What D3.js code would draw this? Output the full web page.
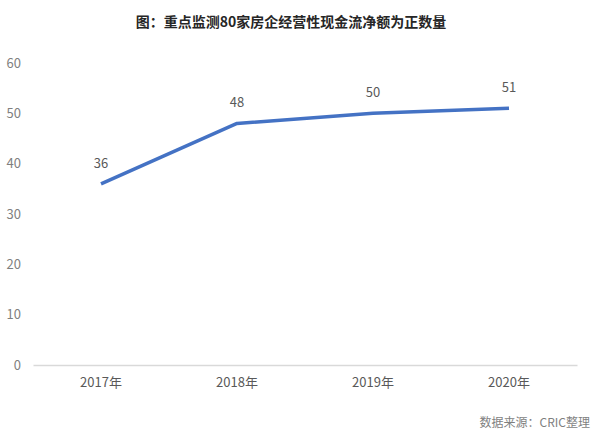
<!DOCTYPE html>
<html><head><meta charset="utf-8">
<script src="https://cdn.jsdelivr.net/npm/d3@7"></script>
<style>body{margin:0;background:#fff}svg{display:block}</style>
</head><body>
<svg id="c" width="600" height="434"></svg>
<script>
const categories = ["2017年","2018年","2019年","2020年"];
const values = [36,48,50,51];
const yTicks = [0,10,20,30,40,50,60];
const title = "图：重点监测80家房企经营性现金流净额为正数量";
const source = "数据来源：CRIC整理";

const svg = d3.select("#c");
const m = {l:33, r:23, t:63, b:69};
const W = 600, H = 434;
const x = d3.scaleBand().domain(categories).range([m.l, W-m.r]);
const y = d3.scaleLinear().domain([0,60]).range([H-m.b, m.t]);
const font = "'Noto Sans CJK SC','Noto Sans',sans-serif";

svg.append("text").attr("x",291).attr("y",27).attr("text-anchor","middle")
  .attr("font-family",font).attr("font-size",14).attr("font-weight","bold").attr("fill","#262626").text(title);

const ya = svg.append("g").attr("transform",`translate(${m.l},0)`)
  .call(d3.axisLeft(y).tickValues(yTicks).tickSize(0).tickPadding(12));
ya.select(".domain").remove();
ya.selectAll("text").attr("font-family",font).attr("font-size",13).attr("fill","#7f7f7f");

const xa = svg.append("g").attr("transform",`translate(0,${y(0)})`)
  .call(d3.axisBottom(x).tickSize(0).tickPadding(13));
xa.select(".domain").attr("stroke","#d9d9d9").attr("stroke-width",1.3);
xa.selectAll("text").attr("font-family",font).attr("font-size",13).attr("fill","#595959");

const cx = d => x(d) + x.bandwidth()/2;
const line = d3.line().x((d,i)=>cx(categories[i])).y(d=>y(d));
svg.append("path").datum(values).attr("d",line).attr("fill","none")
  .attr("stroke","#4472C4").attr("stroke-width",3.5).attr("stroke-linejoin","round");

svg.append("g").selectAll("text").data(values).join("text")
  .attr("x",(d,i)=>cx(categories[i])).attr("y",d=>y(d)-16)
  .attr("text-anchor","middle").attr("font-family",font).attr("font-size",13).attr("fill","#595959")
  .text(d=>d);

svg.append("text").attr("x",590).attr("y",427).attr("text-anchor","end")
  .attr("font-family",font).attr("font-size",12).attr("fill","#7f7f7f").text(source);
</script>
</body></html>
